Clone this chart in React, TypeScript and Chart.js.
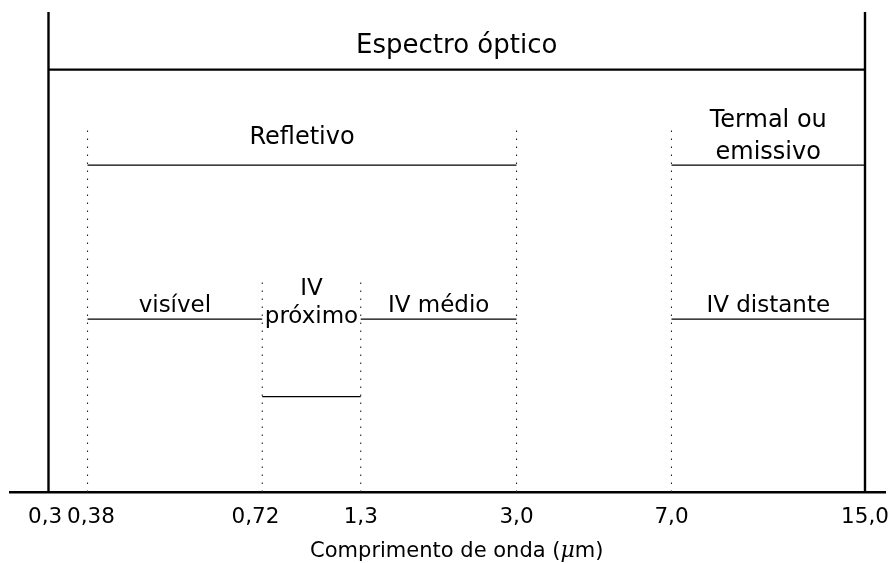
import React, { useEffect, useRef } from "react";
import { Chart, registerables } from "chart.js";

Chart.register(...registerables);

// Wavelength boundaries (µm) shown on the axis, and their schematic positions (0 = 0,3 ; 100 = 15,0)
const wavelengthLabels = ["0,3", "0,38", "0,72", "1,3", "3,0", "7,0", "15,0"];
const schematicPos = [0, 4.78, 26.18, 38.24, 57.32, 76.3, 100];
const tickLabelNudge = ["0,3 ", " 0,38", "0,72  ", "1,3", "3,0", "7,0", "15,0"];

// Spectral bands: label lines, start/end boundary index, level of the bracket line
const bandLabels = [
  ["Espectro óptico"],
  ["Refletivo"],
  ["Termal ou", "emissivo"],
  ["visível"],
  ["IV", "próximo"],
  ["IV médio"],
  ["IV distante"],
];
const bandStart = [0, 1, 5, 1, 2, 3, 5];
const bandEnd = [6, 4, 6, 2, 3, 4, 6];
const bandLevel = [88.0, 68.1, 68.1, 36.0, 19.85, 36.0, 36.0];
const bandLabelBaselines = [[91.4], [72.6], [76.0, 69.3], [37.6], [41.0, 35.15], [37.5], [37.6]];
const bandFontSize = [26, 24, 24, 23, 23, 23, 23];

// Dotted boundary lines (inner boundaries 1..5) and their top level
const dottedIndex = [1, 2, 3, 4, 5];
const dottedTop = [76.1, 44.6, 44.6, 76.1, 76.1];

const axisTitleParts = ["Comprimento de onda (", "μ", "m)"];

const FONT = "'DejaVu Sans', sans-serif";

export default function App() {
  const ref = useRef<HTMLCanvasElement | null>(null);

  useEffect(() => {
    if (!ref.current) return;
    const datasets: any[] = [];
    // solid outer verticals
    [0, 6].forEach((i) => {
      datasets.push({
        data: [
          { x: schematicPos[i], y: 0 },
          { x: schematicPos[i], y: 100 },
        ],
        borderColor: "#000",
        borderWidth: 2.4,
        pointRadius: 0,
        showLine: true,
      });
    });
    // dotted verticals
    dottedIndex.forEach((i, k) => {
      datasets.push({
        data: [
          { x: schematicPos[i], y: 0 },
          { x: schematicPos[i], y: dottedTop[k] },
        ],
        borderColor: "#222",
        borderWidth: 1.1,
        borderDash: [1.5, 6.5],
        pointRadius: 0,
        showLine: true,
      });
    });
    // band lines
    bandLabels.forEach((_, b) => {
      datasets.push({
        data: [
          { x: schematicPos[bandStart[b]], y: bandLevel[b] },
          { x: schematicPos[bandEnd[b]], y: bandLevel[b] },
        ],
        borderColor: "#000",
        borderWidth: b === 0 ? 2.4 : 1.3,
        pointRadius: 0,
        showLine: true,
      });
    });

    const labelsPlugin = {
      id: "bandLabels",
      afterDatasetsDraw(chart: any) {
        const { ctx, scales } = chart;
        const xs = scales.x;
        const ys = scales.y;
        ctx.save();
        ctx.fillStyle = "#000";
        ctx.textAlign = "center";
        ctx.textBaseline = "alphabetic";
        bandLabels.forEach((lines, b) => {
          ctx.font = `${bandFontSize[b]}px ${FONT}`;
          const cx = xs.getPixelForValue((schematicPos[bandStart[b]] + schematicPos[bandEnd[b]]) / 2);
          lines.forEach((t, li) => {
            ctx.fillText(t, cx, ys.getPixelForValue(bandLabelBaselines[b][li]));
          });
        });
        // axis title with italic mu
        const fonts = [`21px ${FONT}`, `italic 22px 'DejaVu Serif', serif`, `21px ${FONT}`];
        let total = 0;
        const widths = axisTitleParts.map((p, i) => {
          ctx.font = fonts[i];
          const w = ctx.measureText(p).width;
          total += w;
          return w;
        });
        const cx = (xs.getPixelForValue(schematicPos[0]) + xs.getPixelForValue(schematicPos[6])) / 2;
        let x = cx - total / 2;
        ctx.textAlign = "left";
        axisTitleParts.forEach((p, i) => {
          ctx.font = fonts[i];
          ctx.fillText(p, x, 557);
          x += widths[i];
        });
        ctx.restore();
      },
    };

    const chart = new Chart(ref.current, {
      type: "scatter",
      data: { datasets },
      options: {
        animation: false,
        responsive: true,
        maintainAspectRatio: false,
        devicePixelRatio: 1,
        layout: { padding: { top: 12, left: 10, right: 6, bottom: 0 } },
        plugins: { legend: { display: false }, tooltip: { enabled: false } },
        scales: {
          x: {
            type: "linear",
            position: "bottom",
            min: -4.715,
            max: 102.45,
            grid: { display: false },
            border: { display: true, color: "#000", width: 2.4 },
            afterFit: (scale: any) => {
              scale.height = 71;
              scale.paddingLeft = 0;
              scale.paddingRight = 0;
            },
            afterBuildTicks: (scale: any) => {
              scale.ticks = schematicPos.map((v) => ({ value: v }));
            },
            ticks: {
              autoSkip: false,
              maxRotation: 0,
              padding: 5,
              color: "#000",
              font: { family: FONT, size: 21.5 },
              callback: (_v: any, i: number) => tickLabelNudge[i] ?? wavelengthLabels[i],
            },
          },
          y: {
            type: "linear",
            display: false,
            min: 0,
            max: 100,
          },
        },
      },
      plugins: [labelsPlugin],
    });
    return () => chart.destroy();
  }, []);

  return (
    <div style={{ position: "fixed", left: 0, top: 0, width: 891, height: 563, background: "#fff" }}>
      <canvas ref={ref} />
    </div>
  );
}
